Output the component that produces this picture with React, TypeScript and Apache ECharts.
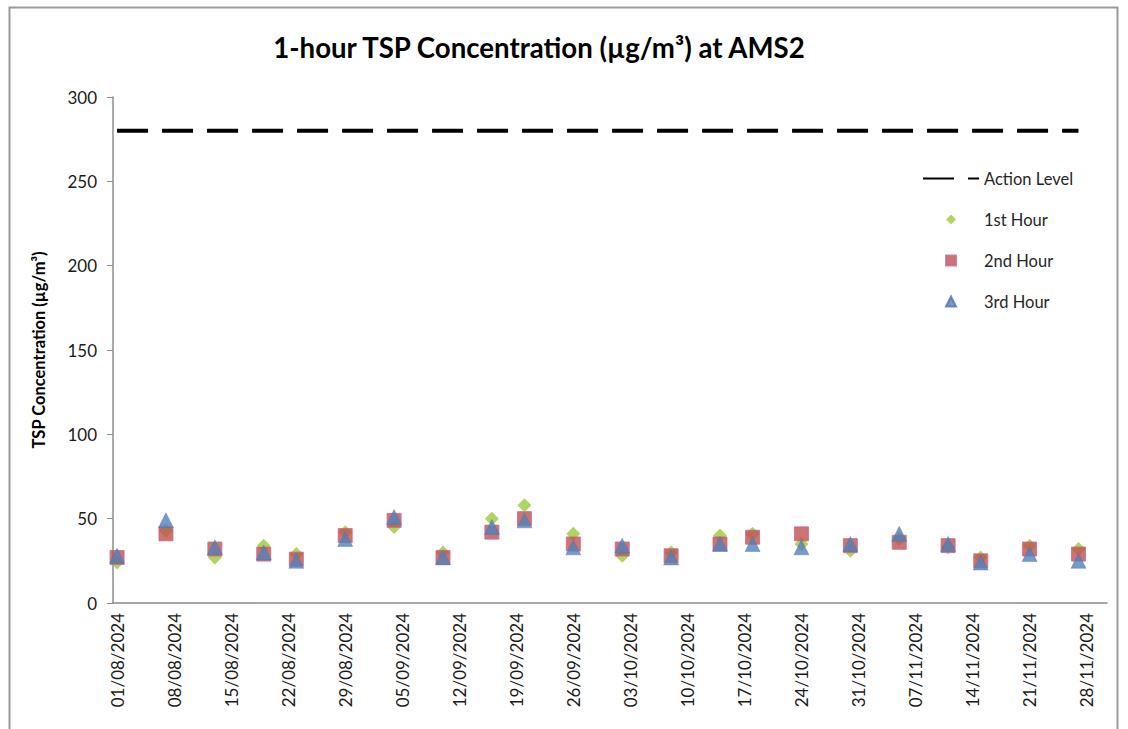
import React, { useEffect, useRef } from "react";
import * as echarts from "echarts";

// Measurement dates
const dates = [
  "01/08/2024", "07/08/2024", "13/08/2024", "19/08/2024", "23/08/2024", "29/08/2024",
  "04/09/2024", "10/09/2024", "16/09/2024", "20/09/2024", "26/09/2024", "02/10/2024",
  "08/10/2024", "14/10/2024", "18/10/2024", "24/10/2024", "30/10/2024", "05/11/2024",
  "11/11/2024", "15/11/2024", "21/11/2024", "27/11/2024",
];
const firstHour = [24, 43, 27, 34, 29, 42, 45, 30, 50, 58, 41, 28, 30, 40, 41, 35, 31, 38, 33, 27, 34, 32];
const secondHour = [27, 41, 32, 29, 26, 40, 49, 27, 42, 50, 35, 32, 28, 35, 39, 41, 34, 36, 34, 25, 32, 29];
const thirdHour = [28, 49, 33, 30, 25, 38, 51, 27, 45, 49, 33, 34, 27, 35, 35, 33, 35, 41, 35, 24, 29, 25];
const actionLevel = 280;
const axisStart = [2024, 7, 1]; // 01/08/2024
const axisDays = 122; // 01/08/2024 .. 30/11/2024
const yTicks = { min: 0, max: 300, interval: 50 };

function pad(n: number) {
  return n < 10 ? "0" + n : String(n);
}
function buildDays(): string[] {
  const out: string[] = [];
  for (let i = 0; i < axisDays; i++) {
    const d = new Date(axisStart[0], axisStart[1], axisStart[2] + i);
    out.push(pad(d.getDate()) + "/" + pad(d.getMonth() + 1) + "/" + d.getFullYear());
  }
  return out;
}

const FONT = "Lato, 'Liberation Sans', sans-serif";
const ICON_DIAMOND = "path://M5,0L10,5L5,10L0,5Z";
const ICON_SQUARE = "path://M0,0L10,0L10,10L0,10Z";
const ICON_TRIANGLE = "path://M5,0L10,10L0,10Z";

export default function App() {
  const ref = useRef<HTMLDivElement>(null);
  useEffect(() => {
    if (!ref.current) return;
    const chart = echarts.init(ref.current, undefined, { renderer: "svg" });
    const days = buildDays();
    const mk = (vals: number[]) => dates.map((d, i) => [d, vals[i]]);
    chart.setOption({
      animation: false,
      backgroundColor: "#ffffff",
      textStyle: { fontFamily: FONT },
      title: {
        text: "1-hour TSP Concentration (µg/m³) at AMS2",
        left: 534,
        textAlign: "center",
        top: 28,
        textStyle: { fontFamily: FONT, fontSize: 27.6, fontWeight: "bold", color: "#000000" },
      },
      graphic: [
        {
          type: "rect",
          shape: { x: 9.5, y: 7.5, width: 1108, height: 760 },
          style: { fill: "none", stroke: "#9a9a9a", lineWidth: 2 },
          silent: true,
        },
      ],
      legend: {
        orient: "vertical",
        left: 922,
        top: 170,
        padding: 0,
        itemWidth: 56,
        itemHeight: 10,
        itemGap: 24,
        symbolKeepAspect: true,
        textStyle: { fontFamily: FONT, fontSize: 16.5, color: "#262626" },
        data: [
          { name: "Action Level", itemStyle: { opacity: 0 } },
          { name: "1st Hour", icon: ICON_DIAMOND },
          { name: "2nd Hour", icon: ICON_SQUARE },
          { name: "3rd Hour", icon: ICON_TRIANGLE },
        ],
      },
      grid: { left: 113, right: 21, top: 97, bottom: 126, containLabel: false },
      xAxis: {
        type: "category",
        data: days,
        boundaryGap: true,
        axisLine: { lineStyle: { color: "#8c8c8c", width: 1.5 } },
        axisTick: { show: false },
        axisLabel: {
          interval: 6,
          rotate: 90,
          fontFamily: FONT,
          fontSize: 17,
          color: "#1a1a1a",
          margin: 10,
        },
        splitLine: { show: false },
      },
      yAxis: {
        type: "value",
        min: yTicks.min,
        max: yTicks.max,
        interval: yTicks.interval,
        name: "TSP Concentration (µg/m³)",
        nameLocation: "middle",
        nameGap: 66,
        nameTextStyle: { fontFamily: FONT, fontSize: 16.5, fontWeight: "bold", color: "#000000" },
        axisLine: { show: true, lineStyle: { color: "#8c8c8c", width: 1.5 } },
        axisTick: { show: true, length: 6, lineStyle: { color: "#8c8c8c" } },
        axisLabel: { fontFamily: FONT, fontSize: 17, color: "#1a1a1a", margin: 16 },
        splitLine: { show: false },
      },
      series: [
        {
          name: "Action Level",
          type: "line",
          data: [[dates[0], actionLevel], [dates[dates.length - 1], actionLevel]],
          symbol: "none",
          lineStyle: { color: "#000000", width: 4, type: [31, 14] },
          itemStyle: { color: "#000000" },
          z: 1,
        },
        {
          name: "1st Hour",
          type: "scatter",
          data: mk(firstHour),
          symbol: "diamond",
          symbolSize: [14, 14],
          itemStyle: { color: "#9BC93A" },
          z: 2,
        },
        {
          name: "2nd Hour",
          type: "scatter",
          data: mk(secondHour),
          symbol: "rect",
          symbolSize: 14,
          itemStyle: { color: "#C0504D", borderColor: "#C46A8A", borderWidth: 1 },
          z: 3,
        },
        {
          name: "3rd Hour",
          type: "scatter",
          data: mk(thirdHour),
          symbol: "triangle",
          symbolSize: [15, 15],
          itemStyle: { color: "#4F81BD", borderColor: "#5A6FB0", borderWidth: 0.5 },
          z: 4,
        },
      ],
    });
    return () => chart.dispose();
  }, []);
  return (
    <div
      ref={ref}
      style={{ position: "fixed", left: 0, top: 0, width: 1128, height: 729 }}
    />
  );
}
